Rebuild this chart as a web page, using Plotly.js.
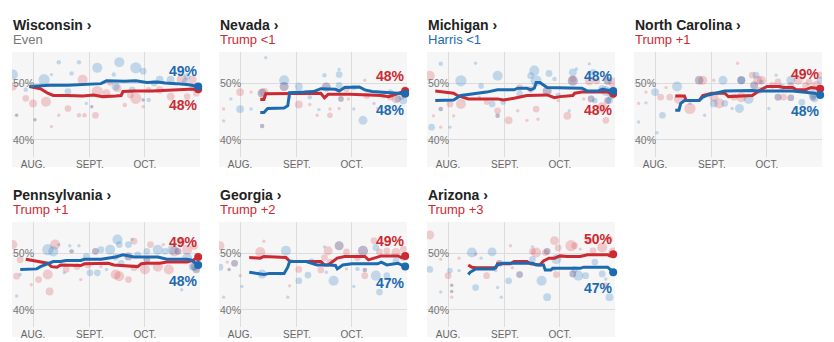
<!DOCTYPE html>
<html><head><meta charset="utf-8">
<script src="https://cdn.plot.ly/plotly-3.0.1.min.js"></script>
<style>html,body{margin:0;padding:0;background:#fff;} #chart{width:834px;height:342px;}</style>
</head><body><div id="chart"></div>
<script>
const YEAR = "2024-";
const monthTickDates = ["08-01","09-01","10-01"];
const monthTickLabels = ["AUG.","SEPT.","OCT."];
const pctTickValues = [40, 50];
const pctTickLabels = ["40%", "50%"];
const stateNames = ["Wisconsin","Nevada","Michigan","North Carolina","Pennsylvania","Georgia","Arizona"];
const leaderTexts = ["Even","Trump <1","Harris <1","Trump +1","Trump +1","Trump +2","Trump +3"];
const leaderParty = ["even","trump","harris","trump","trump","trump","trump"];
const harrisFinal = [49,48,48,48,48,47,47];
const trumpFinal = [48,48,48,49,49,49,50];

// Wisconsin
const wiHarrisAvgDates = ["07-30","08-10","08-20","08-30","09-07","09-10","09-15","09-20","09-26","10-02","10-08","10-12","10-18","10-25","10-30"];
const wiHarrisAvg = [49.4,49.6,49.6,49.8,49.9,50.4,50.3,50.3,50.4,50.1,50.2,50.0,49.9,49.7,49.4];
const wiTrumpAvgDates = ["07-30","08-05","08-09","08-12","08-20","08-28","09-03","09-08","09-15","09-18","09-19","09-25","10-05","10-10","10-20","10-25","10-30"];
const wiTrumpAvg = [49.4,49.0,48.2,47.8,47.8,47.7,47.9,47.6,47.7,47.8,48.5,48.6,48.6,48.7,48.8,48.9,48.9];
const wiHarrisPollDates = ["07-21","07-28","08-07","08-11","08-15","08-20","08-22","08-26","08-30","09-05","09-14","09-15","09-17","09-24","09-26","09-30","10-03","10-06","10-09","10-15","10-23","10-24","10-27","07-23","08-02","09-30","09-02"];
const wiHarrisPolls = [51.5,48.8,50.6,51.5,53.7,48.5,51.7,53.7,46.4,52.7,51.5,49.4,53.7,48.8,52.7,52.1,47.0,50.0,50.6,50.6,50.3,51.2,49.1,44.3,43.5,47.0,45.8];
const wiHarrisPollSizes = [9,4,10,3,4,6,4,4,3,9,4,7,9,6,10,6,4,6,7,7,6,6,6,3,3,3,3];
const wiTrumpPollDates = ["07-21","07-28","08-01","08-08","08-11","08-15","08-20","08-26","08-28","08-29","09-04","09-05","09-10","09-12","09-16","09-20","09-23","09-26","09-30","10-03","10-09","10-15","10-21","10-24","10-27","10-29","07-23","08-02","09-30","09-02"];
const wiTrumpPolls = [49.4,47.3,46.4,46.7,42.3,44.3,45.5,44.3,50.6,44.3,44.3,48.5,48.2,50.0,49.1,46.1,47.9,47.3,45.8,48.8,48.8,47.6,50.6,47.6,50.6,48.2,44.3,43.5,47.0,45.8];
const wiTrumpPollSizes = [7,6,7,9,3,3,6,4,9,4,6,10,7,5,7,4,6,10,3,5,7,7,9,6,7,6,3,3,3,3];

// Nevada
const nvHarrisAvgDates = ["08-12","08-14","08-16","08-25","08-27","08-28","09-05","09-10","09-14","09-22","09-24","09-27","10-05","10-08","10-12","10-20","10-30"];
const nvHarrisAvg = [44.8,44.8,45.5,45.6,46.0,48.3,48.4,48.5,49.0,48.9,48.6,49.2,49.3,48.8,48.5,48.3,48.1];
const nvTrumpAvgDates = ["08-12","08-14","08-15","08-25","09-05","09-14","09-16","09-18","09-30","10-10","10-17","10-21","10-25","10-30"];
const nvTrumpAvg = [47.1,47.1,48.1,48.1,48.2,48.2,47.4,48.0,48.0,47.9,47.8,47.6,48.0,48.6];
const nvHarrisPollDates = ["08-15","08-25","09-02","09-16","09-24","09-24","09-24","10-02","10-07","10-02","08-01","07-27","07-23","08-07","09-08","09-13","10-13","10-22","10-26","10-29","08-13","08-25","09-17","09-25","08-13"];
const nvHarrisPolls = [54.5,50.5,49.4,51.4,52.4,51.5,49.6,49.2,43.4,45.4,45.4,47.2,43.3,45.4,47.5,45.3,46.4,48.4,47.2,46.9,48.2,49.4,49.3,47.2,42.4];
const nvHarrisPollSizes = [3,9,7,4,3,6,6,5,8,3,7,3,3,3,4,3,3,5,6,7,8,8,8,5,4];
const nvTrumpPollDates = ["08-01","07-23","08-07","08-14","08-28","09-02","09-08","09-12","09-19","09-19","09-24","09-28","09-29","10-08","10-09","10-15","10-18","10-22","10-25","10-28","10-30","08-13","08-25","09-17","09-25","08-13"];
const nvTrumpPolls = [48.4,45.4,48.4,48.4,47.5,46.2,46.2,44.3,45.4,44.3,45.5,49.0,47.2,50.5,47.8,45.5,47.8,47.5,47.2,47.5,49.0,48.2,49.4,49.3,47.2,42.4];
const nvTrumpPollSizes = [7,3,3,8,3,7,3,3,3,5,3,6,3,3,6,3,5,6,8,5,5,8,8,8,5,4];

// Michigan
const miHarrisAvgDates = ["07-25","08-04","08-08","08-15","08-22","08-28","09-06","09-08","09-13","09-15","09-17","09-18","09-20","09-24","10-09","10-13","10-16","10-22","10-24","10-30"];
const miHarrisAvg = [46.9,47.0,47.8,48.1,48.4,48.8,48.8,49.1,49.1,48.8,49.1,50.1,50.1,49.2,49.2,49.1,48.6,48.6,48.9,48.6];
const miTrumpAvgDates = ["07-25","08-01","08-04","08-06","08-12","08-28","08-31","09-06","09-13","09-24","09-28","10-01","10-08","10-09","10-13","10-27","10-30"];
const miTrumpAvg = [48.6,48.4,48.2,47.8,47.2,47.2,47.0,47.3,47.8,47.9,47.4,47.6,47.8,48.2,48.4,48.4,48.1];
const miHarrisPollDates = ["07-23","07-28","08-08","08-16","08-28","09-17","09-18","09-15","09-25","09-28","10-08","10-10","10-17","10-19","10-24","10-26","10-29","08-25","08-31","09-09","09-30","10-06","08-02","10-20","10-28","08-19","07-28","08-28","10-08","10-27","10-18","10-27","09-24"];
const miHarrisPolls = [42.2,53.4,50.4,53.5,51.3,52.2,50.4,51.3,51.7,50.7,51.9,52.5,53.4,51.9,48.9,48.6,47.8,46.3,46.6,48.1,47.8,45.1,42.2,46.9,46.9,49.5,45.4,44.2,50.4,50.4,47.2,46.9,48.6];
const miHarrisPollSizes = [6,4,10,3,9,9,10,6,6,4,7,3,3,6,7,9,7,6,5,6,5,3,3,5,6,5,4,4,9,7,6,6,8];
const miTrumpPollDates = ["07-22","07-28","08-08","08-02","08-18","08-22","08-28","09-03","09-08","09-09","09-15","09-18","09-19","09-13","09-30","10-05","10-08","10-14","10-17","10-21","10-24","10-26","10-30","07-24","08-04","07-28","08-28","10-08","10-27","10-18","10-27","09-24"];
const miTrumpPolls = [51.3,42.2,46.3,46.3,47.5,46.6,45.1,43.4,45.1,49.2,48.9,45.4,43.6,43.4,46.9,44.2,50.7,47.2,50.4,50.4,45.7,43.4,50.1,44.2,44.2,45.4,44.2,50.4,50.4,47.2,46.9,48.6];
const miTrumpPollSizes = [9,3,9,6,3,5,6,7,3,6,6,6,3,3,3,7,6,3,8,6,9,6,9,3,3,4,4,9,7,6,6,8];

// North Carolina
const ncHarrisAvgDates = ["08-12","08-14","08-15","08-17","08-25","08-27","08-30","09-02","09-08","09-23","09-27","10-15","10-22","10-27","10-30"];
const ncHarrisAvg = [45.2,45.2,46.4,46.9,46.9,47.5,47.9,48.1,48.6,48.7,48.6,48.6,48.4,48.2,47.9];
const ncTrumpAvgDates = ["08-12","08-17","08-18","08-25","08-27","09-01","09-08","09-10","09-23","09-27","10-01","10-08","10-10","10-15","10-17","10-22","10-25","10-30"];
const ncTrumpAvg = [47.7,47.7,46.9,46.9,47.8,48.2,48.2,47.6,47.8,48.7,49.4,49.4,49.2,49.2,48.8,48.8,49.2,49.0];
const ncHarrisPollDates = ["07-23","07-27","08-01","08-02","08-05","08-13","08-20","08-25","08-28","09-02","09-07","09-08","09-12","09-16","09-17","09-21","09-25","09-28","10-02","10-06","10-09","10-14","10-16","10-20","10-26","10-27","10-30","09-17","09-24","10-07","10-14","10-26"];
const ncHarrisPolls = [43.1,46.5,48.4,41.2,44.3,49.4,46.4,50.5,44.3,46.4,50.5,46.4,45.5,45.5,50.5,47.2,51.4,50.2,45.5,51.4,49.3,50.5,45.5,46.6,48.1,47.2,50.5,50.5,49.6,47.5,47.4,47.5];
const ncHarrisPollSizes = [3,3,7,3,6,9,3,7,3,7,8,6,3,8,7,9,6,4,3,3,6,8,3,6,8,6,6,7,7,6,6,6];
const ncTrumpPollDates = ["07-23","07-27","08-04","08-07","08-09","08-14","08-20","08-25","08-27","09-02","09-02","09-05","09-13","09-15","09-17","09-23","09-26","09-28","09-27","10-04","10-07","10-10","10-14","10-18","10-22","10-24","10-28","10-30","09-17","09-24","10-07","10-14","10-26"];
const ncTrumpPolls = [46.4,48.4,47.5,49.2,47.5,47.2,45.5,50.5,50.5,50.5,47.5,46.4,47.5,53.5,47.5,51.4,50.5,50.5,48.7,49.6,50.2,47.5,49.6,50.5,49.6,50.2,49.6,51.4,50.5,49.6,47.5,47.4,47.5];
const ncTrumpPollSizes = [3,3,6,3,6,9,10,8,8,3,8,9,6,3,9,6,8,8,6,6,6,6,6,8,6,6,8,6,7,7,6,6,6];

// Pennsylvania
const paHarrisAvgDates = ["07-25","08-03","08-05","08-09","08-12","08-16","08-19","08-27","08-29","09-07","09-12","09-15","09-19","09-22","09-25","10-08","10-10","10-13","10-24","10-26","10-30"];
const paHarrisAvg = [47.1,47.2,47.6,48.1,48.5,48.5,48.7,48.7,48.9,48.9,49.1,49.3,49.7,49.5,49.3,49.3,49.1,48.9,48.9,48.8,47.9];
const paTrumpAvgDates = ["07-28","08-01","08-05","08-09","08-11","08-14","08-16","08-21","08-27","08-29","09-05","09-07","09-11","09-14","09-18","09-27","09-29","10-02","10-09","10-13","10-24","10-27","10-30"];
const paTrumpAvg = [48.9,48.7,48.4,48.2,47.6,47.5,47.9,47.8,47.8,48.1,48.1,48.2,48.2,47.9,47.8,47.6,48.1,48.2,48.2,48.4,48.4,48.7,49.3];
const paHarrisPollDates = ["07-23","07-25","08-09","08-12","08-15","08-21","08-26","08-30","09-05","09-07","09-12","09-16","09-17","09-15","09-18","09-22","09-24","09-27","10-02","10-08","10-12","10-16","10-21","10-24","10-27","10-29","09-10","08-18","09-01","09-04","09-22","10-02","10-19","10-28","08-22"];
const paHarrisPolls = [42.4,46.2,50.6,50.3,51.5,51.3,51.3,49.4,46.5,50.6,50.6,52.4,51.5,49.3,48.2,51.5,52.4,49.7,50.3,50.6,50.3,50.6,43.5,49.1,47.6,47.1,47.1,46.5,46.5,50.3,49.4,48.8,50.3,47.6,50.3];
const paHarrisPollSizes = [3,3,10,9,3,3,3,6,6,6,9,9,6,6,6,6,3,6,6,9,6,9,3,9,7,7,3,3,6,6,7,6,6,7,4];
const paTrumpPollDates = ["07-21","07-23","07-25","07-31","08-04","08-10","08-13","08-09","08-19","08-25","08-27","08-31","09-07","09-15","09-17","09-22","09-25","09-25","10-01","10-04","10-08","10-11","10-14","10-17","10-21","10-24","10-28","10-29","09-04","09-22","10-02","10-19","10-28","08-22"];
const paTrumpPolls = [51.5,45.9,48.8,44.4,45.3,43.2,51.5,46.2,47.1,47.6,45.3,47.9,47.6,46.2,45.9,45.3,52.1,47.4,47.1,51.5,47.6,51.5,47.1,50.3,52.1,50.6,51.2,47.1,50.3,49.4,48.8,50.3,47.6,50.3];
const paTrumpPollSizes = [8,6,6,3,6,7,9,9,6,6,3,6,3,9,9,6,6,6,9,6,9,3,9,9,6,9,6,6,6,7,6,6,7,4];

// Georgia
const gaHarrisAvgDates = ["08-06","08-12","08-14","08-17","08-25","08-27","08-28","09-06","09-12","09-18","09-22","09-23","09-26","10-01","10-15","10-17","10-20","10-26","10-30"];
const gaHarrisAvg = [46.6,46.4,46.2,46.4,46.4,47.5,48.5,48.5,47.9,47.9,47.8,47.2,47.9,48.1,48.1,48.4,47.9,48.2,47.6];
const gaTrumpAvgDates = ["08-06","08-12","08-14","08-26","08-28","08-30","09-14","09-16","09-18","09-20","09-23","09-27","10-08","10-10","10-13","10-17","10-26","10-28","10-30"];
const gaTrumpAvg = [49.2,49.1,49.4,49.2,48.6,48.5,48.5,47.9,47.9,48.4,49.1,49.4,49.4,48.8,49.1,49.5,49.5,49.2,49.5];
const gaHarrisPollDates = ["07-21","07-23","08-02","08-13","08-26","08-27","09-02","09-07","09-16","09-21","09-17","10-02","10-14","10-14","10-16","10-20","10-25","10-29","09-09","10-04","07-29","09-24","10-07","07-26","10-08"];
const gaHarrisPolls = [47.5,42.2,44.1,46.3,50.4,42.2,45.1,46.1,51.1,45.1,46.6,44.1,51.0,46.0,43.1,46.0,48.6,49.2,48.6,47.2,48.2,51.3,50.4,47.1,47.0];
const gaHarrisPollSizes = [6,3,3,8,9,3,6,6,3,9,3,3,6,9,6,6,6,6,5,4,6,8,9,3,4];
const gaTrumpPollDates = ["07-21","07-25","08-01","08-12","08-14","08-23","08-28","09-02","09-14","09-16","09-18","09-19","09-28","09-28","10-04","10-08","10-13","10-16","10-20","10-25","10-29","07-29","09-24","10-07","07-26","10-08"];
const gaTrumpPolls = [51.3,48.4,46.0,50.2,52.1,46.3,44.2,47.1,47.0,49.2,50.4,48.4,50.2,47.2,49.2,46.0,52.2,50.2,50.4,50.1,50.7,48.2,51.3,50.4,47.1,47.0];
const gaTrumpPollSizes = [8,3,3,9,3,3,3,6,6,6,8,6,6,3,6,6,6,6,6,8,6,6,8,9,3,4];

// Arizona
const azHarrisAvgDates = ["08-12","08-13","08-16","08-26","08-28","08-31","09-16","09-18","09-22","09-23","09-26","09-27","10-12","10-14","10-27","10-28","10-30"];
const azHarrisAvg = [46.2,46.6,47.2,47.2,47.9,48.2,48.2,47.9,47.9,47.0,47.0,47.3,47.3,47.5,47.5,47.2,46.6];
const azTrumpAvgDates = ["08-12","08-14","08-16","08-27","08-28","09-04","09-06","09-13","09-15","09-20","09-22","09-25","09-28","10-01","10-05","10-12","10-16","10-27","10-28","10-30"];
const azTrumpAvg = [47.9,47.5,47.4,47.4,48.1,48.1,48.5,48.5,48.1,47.9,48.6,49.1,49.1,49.5,49.4,49.4,49.7,49.7,49.5,49.8];
const azHarrisPollDates = ["07-22","07-28","08-02","08-07","08-14","08-19","08-16","08-25","08-27","08-28","08-30","09-03","09-16","09-16","09-21","09-24","09-28","09-29","10-09","10-11","10-15","10-24","10-26","10-28","10-20","08-03","08-03","08-29","09-09","09-24","10-08"];
const azHarrisPolls = [47.1,43.1,46.9,46.9,50.1,49.1,43.9,50.2,46.9,43.9,42.2,45.1,51.1,48.9,45.1,42.2,47.1,48.9,47.1,46.0,46.0,46.3,45.4,42.2,48.4,44.3,43.2,48.2,46.2,50.3,46.3];
const azHarrisPollSizes = [6,3,5,3,9,3,6,8,3,3,3,6,3,6,9,7,3,9,6,9,6,6,3,7,6,3,3,6,6,6,6];
const azTrumpPollDates = ["07-22","07-28","08-01","08-03","08-07","08-16","08-22","09-04","09-05","09-16","09-18","09-23","09-28","09-30","09-29","10-07","10-09","10-12","10-17","10-19","10-24","10-28","10-26","10-30","08-03","08-03","08-29","09-09","09-24","10-08"];
const azTrumpPolls = [53.2,48.9,46.0,42.2,49.1,49.8,46.0,51.3,47.4,50.3,50.1,50.1,52.2,50.9,46.2,51.3,51.3,50.7,52.2,50.4,51.0,52.5,44.2,50.1,44.3,43.2,48.2,46.2,50.3,46.3];
const azTrumpPollSizes = [8,3,6,3,3,3,6,3,3,6,9,6,8,6,6,10,6,3,6,6,9,6,6,9,3,3,6,6,6,6];

// ---------- build ----------
const HARRIS = "#1c6ab0";
const TRUMP = "#cc2a32";
const HARRIS_DOT = "rgba(35,125,195,0.36)";
const TRUMP_DOT = "rgba(215,50,60,0.32)";
const BG = "#f6f6f6";
const GRID = "#dcdcdc";
const FONT = "'Liberation Sans', Arial, sans-serif";

const panels = [
  {hd: wiHarrisAvgDates, hv: wiHarrisAvg, td: wiTrumpAvgDates, tv: wiTrumpAvg, hpd: wiHarrisPollDates, hpv: wiHarrisPolls, hps: wiHarrisPollSizes, tpd: wiTrumpPollDates, tpv: wiTrumpPolls, tps: wiTrumpPollSizes},
  {hd: nvHarrisAvgDates, hv: nvHarrisAvg, td: nvTrumpAvgDates, tv: nvTrumpAvg, hpd: nvHarrisPollDates, hpv: nvHarrisPolls, hps: nvHarrisPollSizes, tpd: nvTrumpPollDates, tpv: nvTrumpPolls, tps: nvTrumpPollSizes},
  {hd: miHarrisAvgDates, hv: miHarrisAvg, td: miTrumpAvgDates, tv: miTrumpAvg, hpd: miHarrisPollDates, hpv: miHarrisPolls, hps: miHarrisPollSizes, tpd: miTrumpPollDates, tpv: miTrumpPolls, tps: miTrumpPollSizes},
  {hd: ncHarrisAvgDates, hv: ncHarrisAvg, td: ncTrumpAvgDates, tv: ncTrumpAvg, hpd: ncHarrisPollDates, hpv: ncHarrisPolls, hps: ncHarrisPollSizes, tpd: ncTrumpPollDates, tpv: ncTrumpPolls, tps: ncTrumpPollSizes},
  {hd: paHarrisAvgDates, hv: paHarrisAvg, td: paTrumpAvgDates, tv: paTrumpAvg, hpd: paHarrisPollDates, hpv: paHarrisPolls, hps: paHarrisPollSizes, tpd: paTrumpPollDates, tpv: paTrumpPolls, tps: paTrumpPollSizes},
  {hd: gaHarrisAvgDates, hv: gaHarrisAvg, td: gaTrumpAvgDates, tv: gaTrumpAvg, hpd: gaHarrisPollDates, hpv: gaHarrisPolls, hps: gaHarrisPollSizes, tpd: gaTrumpPollDates, tpv: gaTrumpPolls, tps: gaTrumpPollSizes},
  {hd: azHarrisAvgDates, hv: azHarrisAvg, td: azTrumpAvgDates, tv: azTrumpAvg, hpd: azHarrisPollDates, hpv: azHarrisPolls, hps: azHarrisPollSizes, tpd: azTrumpPollDates, tpv: azTrumpPolls, tps: azTrumpPollSizes}
];

const W = 834, H = 342;
const colX0 = [12, 219, 427, 634];
const colW = 188;
const rowTop = [52, 222];
const plotH = 104.5;
const bgH = 115;
const toDate = s => YEAR + s;
const last = a => a[a.length - 1];
const dotSize = s => s * 1.12;

const traces = [];
const annotations = [];
const shapes = [];
const layout = {
  width: W, height: H,
  margin: {l: 0, r: 0, t: 0, b: 0},
  paper_bgcolor: "#ffffff",
  plot_bgcolor: BG,
  showlegend: false,
  font: {family: FONT},
  hovermode: false
};

panels.forEach((p, i) => {
  const row = i < 4 ? 0 : 1;
  const col = i % 4;
  const ax = i === 0 ? "" : String(i + 1);
  const xa = "x" + ax, ya = "y" + ax;
  const x0 = colX0[col];
  const top = rowTop[row];

  layout["xaxis" + ax] = {
    domain: [x0 / W, (x0 + colW) / W], anchor: ya, type: "date",
    range: ["2024-07-20 12:00", "2024-10-31"],
    tickvals: monthTickDates.map(toDate), ticktext: monthTickLabels,
    showgrid: true, gridcolor: GRID, gridwidth: 1, zeroline: false, showline: false,
    ticks: "", tickfont: {family: FONT, size: 10, color: "#666"}, fixedrange: true
  };
  layout["yaxis" + ax] = {
    domain: [1 - (top + plotH) / H, 1 - top / H], anchor: xa,
    range: [37, 55.5], tickvals: pctTickValues, showticklabels: false,
    showgrid: true, gridcolor: GRID, gridwidth: 1,
    zeroline: false, showline: false, ticks: "", fixedrange: true
  };
  shapes.push({type: "rect", xref: "paper", yref: "paper",
    x0: x0 / W, x1: (x0 + colW) / W, y0: 1 - (top + bgH) / H, y1: 1 - top / H,
    fillcolor: BG, line: {width: 0}, layer: "below"});

  // y tick labels (inside, left)
  pctTickValues.forEach((v, k) => {
    annotations.push({xref: xa + " domain", yref: ya, x: 0, y: v, xanchor: "left", yanchor: "middle",
      xshift: -1, showarrow: false, text: pctTickLabels[k], font: {family: FONT, size: 10.5, color: "#777"}});
  });

  // polls
  traces.push({type: "scatter", mode: "markers", xaxis: xa, yaxis: ya,
    x: p.tpd.map(toDate), y: p.tpv,
    marker: {size: p.tps.map(dotSize), color: TRUMP_DOT, line: {width: 0}}});
  traces.push({type: "scatter", mode: "markers", xaxis: xa, yaxis: ya,
    x: p.hpd.map(toDate), y: p.hpv,
    marker: {size: p.hps.map(dotSize), color: HARRIS_DOT, line: {width: 0}}});
  // averages
  traces.push({type: "scatter", mode: "lines", xaxis: xa, yaxis: ya,
    x: p.td.map(toDate), y: p.tv, line: {color: TRUMP, width: 3}});
  traces.push({type: "scatter", mode: "lines", xaxis: xa, yaxis: ya,
    x: p.hd.map(toDate), y: p.hv, line: {color: HARRIS, width: 3}});
  traces.push({type: "scatter", mode: "markers", xaxis: xa, yaxis: ya, cliponaxis: false,
    x: [toDate(last(p.td))], y: [last(p.tv)], marker: {size: 8, color: TRUMP}});
  traces.push({type: "scatter", mode: "markers", xaxis: xa, yaxis: ya, cliponaxis: false,
    x: [toDate(last(p.hd))], y: [last(p.hv)], marker: {size: 8, color: HARRIS}});

  // titles
  annotations.push({xref: "paper", yref: "paper", x: x0 / W, y: 1 - (top - 27) / H,
    xanchor: "left", yanchor: "middle", showarrow: false, xshift: -1,
    text: "<b>" + stateNames[i] + " ›</b>",
    font: {family: FONT, size: 14, color: "#222"}});
  const lc = leaderParty[i] === "trump" ? TRUMP : (leaderParty[i] === "harris" ? HARRIS : "#777");
  annotations.push({xref: "paper", yref: "paper", x: x0 / W, y: 1 - (top - 13) / H,
    xanchor: "left", yanchor: "middle", showarrow: false, xshift: -1,
    text: leaderTexts[i].replace("<", "&lt;"),
    font: {family: FONT, size: 13, color: lc}});

  // end labels
  const harrisTop = last(p.hv) >= last(p.tv);
  annotations.push({xref: xa + " domain", yref: ya, x: 1, y: last(p.hv),
    xanchor: "right", yanchor: "middle", showarrow: false, yshift: harrisTop ? 15 : -16,
    text: "<b>" + harrisFinal[i] + "%</b>", font: {family: FONT, size: 14, color: HARRIS}});
  annotations.push({xref: xa + " domain", yref: ya, x: 1, y: last(p.tv),
    xanchor: "right", yanchor: "middle", showarrow: false, yshift: harrisTop ? -16 : 15,
    text: "<b>" + trumpFinal[i] + "%</b>", font: {family: FONT, size: 14, color: TRUMP}});
});

layout.annotations = annotations;
layout.shapes = shapes;

Plotly.newPlot("chart", traces, layout, {staticPlot: true, displayModeBar: false});
</script>
</body></html>
